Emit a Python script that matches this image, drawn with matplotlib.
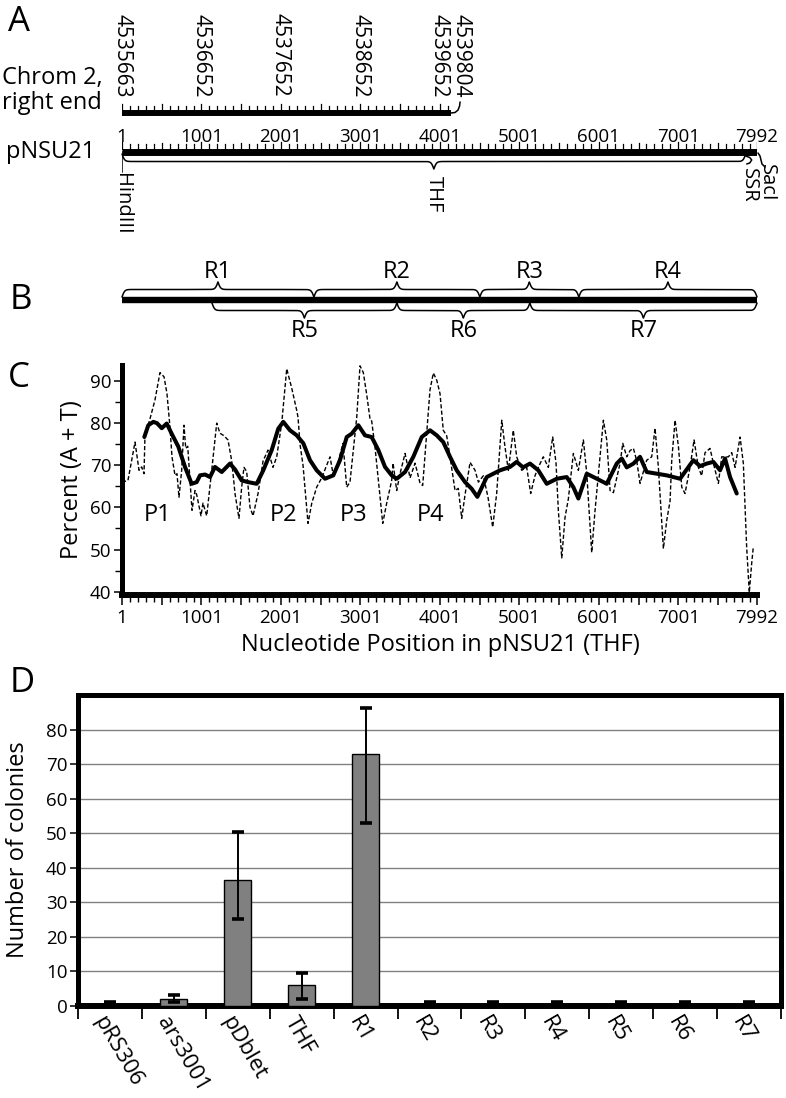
import numpy as np
import matplotlib
matplotlib.use('Agg')
import matplotlib.pyplot as plt
from matplotlib.transforms import ScaledTranslation

plt.rcParams['font.family'] = ['Open Sans', 'DejaVu Sans']

# ------------------------------------------------------------------ data
plasmid_len = 7992
chrom_len = 4142
chrom_label_pos = [1, 990, 1990, 2990, 3990, 4142]
chrom_labels = ['4535663', '4536652', '4537652', '4538652', '4539652', '4539804']
plasmid_ticks = [1, 1001, 2001, 3001, 4001, 5001, 6001, 7001, 7992]
plasmid_labels = ['1', '1001', '2001', '3001', '4001', '5001', '6001', '7001', '7992']
thf_span = (1, 7850)

top_region_names = ['R1', 'R2', 'R3', 'R4']
top_region_start = [1, 2416, 4504, 5750]
top_region_end = [2416, 4504, 5750, 7992]
bottom_region_names = ['R5', 'R6', 'R7']
bottom_region_start = [1133, 3460, 5133]
bottom_region_end = [3460, 5133, 7992]

raw_pos = [1, 76, 165, 215, 249, 278, 290, 353, 416, 479,
           530, 567, 605, 630, 668, 693, 718, 752, 781, 803,
           828, 857, 882, 920, 941, 995, 1020, 1067, 1130, 1193,
           1234, 1285, 1335, 1382, 1423, 1473, 1507, 1536, 1570, 1612,
           1650, 1713, 1776, 1838, 1901, 1948, 2011, 2074, 2137, 2200,
           2216, 2241, 2279, 2342, 2389, 2451, 2514, 2556, 2619, 2656,
           2703, 2782, 2829, 2870, 2955, 2996, 3038, 3081, 3122, 3143,
           3185, 3282, 3332, 3395, 3412, 3458, 3500, 3563, 3626, 3689,
           3752, 3785, 3836, 3877, 3919, 3962, 4003, 4044, 4087, 4129,
           4192, 4233, 4276, 4318, 4381, 4444, 4486, 4548, 4607, 4666,
           4716, 4780, 4821, 4863, 4925, 4968, 5031, 5094, 5144, 5198,
           5240, 5303, 5366, 5421, 5463, 5492, 5535, 5576, 5618, 5681,
           5744, 5807, 5850, 5912, 5954, 6017, 6059, 6101, 6143, 6185,
           6269, 6303, 6353, 6395, 6437, 6479, 6520, 6604, 6667, 6709,
           6751, 6814, 6856, 6898, 6919, 6961, 7003, 7045, 7086, 7149,
           7200, 7254, 7296, 7338, 7401, 7443, 7506, 7548, 7632, 7674,
           7716, 7779, 7820, 7862, 7895, 7925, 7945]
raw_at = [66, 66.4, 75.5, 68.8, 69.6, 68, 77, 81, 85.5, 92,
          91, 87, 79, 72, 67.6, 68, 62.4, 68.8, 79.5, 74,
          74.5, 66.4, 59.3, 64, 63, 58, 61, 58, 68.8, 80,
          77.6, 77, 76, 71, 63.3, 57.4, 64.8, 69.5, 68.5, 60,
          58, 63.3, 71, 73.6, 69.5, 72, 80, 92.9, 88.3, 83,
          81.4, 75, 70, 56.2, 61, 64.8, 67, 69, 72, 68,
          69.5, 75.2, 64.8, 66, 81.4, 93.6, 92, 86.7, 81, 80.5,
          74.3, 56.2, 61, 66.4, 70.5, 64, 68, 72.8, 67, 70.5,
          65.7, 65.2, 77.6, 87.9, 91.9, 90.2, 87, 78.3, 77, 72,
          64, 64.5, 57.4, 63, 70.7, 68.8, 66, 67.5, 62.4, 55.3,
          63.3, 80.7, 74.3, 68.8, 78.3, 72, 68.8, 69.5, 63.3, 67.5,
          69.5, 72, 69.5, 76.7, 70.5, 59.3, 48, 57.6, 62, 72.8,
          68.8, 76, 68, 49.3, 59.3, 72, 80.7, 76, 64, 63.5,
          70.5, 75.2, 72, 73.5, 74, 71, 65.7, 71.2, 72, 78.8,
          69.5, 50.2, 56.9, 61.5, 71.2, 80.7, 74.5, 64.8, 63.3, 69.5,
          76, 69.5, 67.5, 73, 74, 70.5, 65.7, 72, 72, 73,
          69.5, 76.7, 70.5, 50.5, 39.8, 46.7, 50.5]

smooth_pos = [282, 332, 395, 441, 501, 564, 626, 710, 794, 878,
              941, 983, 1046, 1108, 1171, 1256, 1360, 1423, 1507, 1587,
              1696, 1779, 1885, 1968, 2031, 2115, 2200, 2283, 2367, 2451,
              2556, 2660, 2744, 2829, 2892, 2975, 3059, 3143, 3227, 3311,
              3395, 3458, 3563, 3667, 3773, 3877, 3962, 4044, 4129, 4213,
              4318, 4402, 4473, 4591, 4758, 4884, 4968, 5048, 5136, 5240,
              5346, 5472, 5597, 5681, 5744, 5850, 5976, 6101, 6227, 6290,
              6353, 6437, 6520, 6604, 6730, 6856, 7024, 7191, 7275, 7359,
              7443, 7527, 7590, 7653, 7737]
smooth_at = [76.7, 79.5, 80.3, 80, 78.8, 79.9, 77.5, 74.4, 69.6, 65.6,
             66, 67.6, 67.8, 67.2, 69.6, 68.4, 70.4, 69, 66.4, 66,
             65.6, 68.8, 73.6, 78.7, 80.3, 78.3, 77.1, 75.2, 71.2, 68.8,
             66.8, 67.6, 71.2, 76.7, 77.5, 79.5, 77.1, 76.7, 73.6, 69.6,
             67.6, 66.8, 68.4, 72, 76.7, 78.3, 77.1, 75.5, 72, 68.8,
             66, 64.4, 62.5, 67.2, 68.8, 69.6, 70.8, 69.5, 70.4, 68.8,
             65.6, 66.8, 67.2, 64.8, 62.1, 68, 66.8, 65.6, 70.4, 71.6,
             69.5, 70.4, 72, 68.4, 68, 67.6, 66.8, 71.2, 69.8, 70.4,
             70.8, 68.8, 71.6, 67.2, 63.3]

peak_names = ['P1', 'P2', 'P3', 'P4']
peak_pos = [445, 2030, 2910, 3880]
peak_label_y = 58.3

categories = ['pRS306', 'ars3001', 'pDblet', 'THF', 'R1', 'R2', 'R3', 'R4', 'R5', 'R6', 'R7']
colonies = [0, 2.1, 36.4, 6.1, 72.9, 0, 0, 0, 0, 0, 0]
err_low = [0, 0.9, 11.2, 4.0, 19.9, 0, 0, 0, 0, 0, 0]
err_high = [1.2, 1.2, 13.9, 3.5, 13.3, 1.2, 1.2, 1.2, 1.2, 1.2, 1.2]

# ------------------------------------------------------------------ layout helpers
W, H = 786, 1098
fig = plt.figure(figsize=(W / 100, H / 100), dpi=100)


def rect(x0, y0, x1, y1):
    return [x0 / W, 1 - y1 / H, (x1 - x0) / W, (y1 - y0) / H]


def ftext(x, y, s, **kw):
    fig.text(x / W, 1 - y / H, s, **kw)


XL, XR = 122, 757
px2nt = (plasmid_len - 1) / (XR - XL)


def brace(ax, x0, x1, y0, h, n=2001, beta=0.06, lw=1.1):
    xs = np.linspace(x0, x1, n)
    half = xs[: n // 2 + 1]
    yh = 1 / (1 + np.exp(-beta * (half - half[0]))) + 1 / (1 + np.exp(-beta * (half - half[-1])))
    yy = np.concatenate([yh, yh[-2::-1]])
    ax.plot(xs, y0 + (yy - 0.5) * h, color='k', lw=lw, solid_capstyle='round', clip_on=False)
    return (x0 + x1) / 2


def hook(ax, x_nt, y_px, offsets, lw=1.1):
    xs = [x_nt + dx * px2nt for dx, dy in offsets]
    ys = [y_px + dy for dx, dy in offsets]
    ax.plot(xs, ys, color='k', lw=lw, clip_on=False, solid_capstyle='round')


# ------------------------------------------------------------------ panels A & B
axT = fig.add_axes(rect(XL, 0, XR, 345))
axT.set_xlim(1, plasmid_len)
axT.set_ylim(345, 0)
axT.axis('off')

LBL = 17
NUM = 13.5

ftext(8, 22, 'A', fontsize=25, va='center', ha='left')
ftext(2, 78, 'Chrom 2,', fontsize=LBL, va='center', ha='left')
ftext(2, 103, 'right end', fontsize=LBL, va='center', ha='left')
ftext(6, 152, 'pNSU21', fontsize=LBL, va='center', ha='left')

# chromosome bar
axT.plot([1, chrom_len], [113, 113], color='k', lw=4.3, solid_capstyle='butt')
for t in np.arange(1, chrom_len, 100):
    L = 7 if (t - 1) % 500 == 0 else 4.5
    axT.plot([t, t], [110.5, 110.5 - L], color='k', lw=0.9)
for p, s in zip(chrom_label_pos, chrom_labels):
    off = 10 if p == chrom_len else 0
    tr = axT.transData + ScaledTranslation(off / 100, 0, fig.dpi_scale_trans)
    axT.text(p, 97, s, rotation=270, ha='center', va='bottom', fontsize=15, transform=tr)
hook(axT, chrom_len, 113, [(0, 0), (4, -0.5), (7, -3), (8.5, -7), (9, -11)])

# plasmid bar
axT.plot([1, plasmid_len], [152, 152], color='k', lw=5, solid_capstyle='butt')
for t in np.arange(1, plasmid_len, 100):
    L = 7 if (t - 1) % 1000 == 0 else (6 if (t - 1) % 500 == 0 else 4.5)
    axT.plot([t, t], [148.5, 148.5 - L], color='k', lw=0.9)
axT.plot([plasmid_len, plasmid_len], [148.5, 141.5], color='k', lw=0.9)
for p, s in zip(plasmid_ticks, plasmid_labels):
    axT.text(p, 142, s, ha='center', va='baseline', fontsize=NUM)

tip = brace(axT, thf_span[0], thf_span[1], 154, 15)
axT.plot([1, 1], [152, 172], color='k', lw=1.1)
axT.text(1, 173, 'HindIII', rotation=270, ha='center', va='top', fontsize=14.5)
axT.text(tip, 176, 'THF', rotation=270, ha='center', va='top', fontsize=14.5)
hook(axT, thf_span[1], 156, [(0, 0), (4, 1.5), (6, 4), (4, 7), (1, 8)])
axT.text(thf_span[1] + 3 * px2nt, 168, 'SSR', rotation=270, ha='center', va='top', fontsize=14.5)
hook(axT, plasmid_len, 153, [(1, 0), (3, 3), (4, 7), (5, 11), (8, 14)])
axT.text(plasmid_len + 10 * px2nt, 164, 'SacI', rotation=270, ha='center', va='top', fontsize=14.5)

# panel B
ftext(10, 300, 'B', fontsize=25, va='center', ha='left')
axT.plot([1, plasmid_len], [300, 300], color='k', lw=4.6, solid_capstyle='butt')
for nm, a, b in zip(top_region_names, top_region_start, top_region_end):
    c = brace(axT, a, b, 297, -15)
    axT.text(c, 272, nm, ha='center', va='center', fontsize=LBL)
for nm, a, b in zip(bottom_region_names, bottom_region_start, bottom_region_end):
    c = brace(axT, a, b, 303, 15)
    axT.text(c, 331, nm, ha='center', va='center', fontsize=LBL)

# ------------------------------------------------------------------ panel C
ftext(8, 378, 'C', fontsize=25, va='center', ha='left')
axC = fig.add_axes(rect(XL, 365, XR, 595))
axC.plot(raw_pos, raw_at, color='k', lw=1.0, ls=(0, (3, 1.6)), clip_on=False)
axC.plot(smooth_pos, smooth_at, color='k', lw=2.9, solid_joinstyle='round', solid_capstyle='round')
axC.set_xlim(1, plasmid_len)
axC.set_ylim(39.2, 93.8)
axC.spines['top'].set_visible(False)
axC.spines['right'].set_visible(False)
axC.spines['left'].set_linewidth(3.6)
axC.spines['bottom'].set_linewidth(4.3)
maj = sorted(set(plasmid_ticks) | set(range(501, plasmid_len, 1000)))
axC.set_xticks(maj)
axC.set_xticklabels([s if p in plasmid_ticks else '' for p, s in
                     zip(maj, [str(m) for m in maj])])
axC.set_xticks(np.arange(101, plasmid_len, 100), minor=True)
axC.set_yticks(range(40, 91, 10))
axC.set_yticks(range(45, 90, 10), minor=True)
axC.tick_params(axis='x', which='major', direction='out', length=7, width=1.1, labelsize=NUM, pad=3)
axC.tick_params(axis='x', which='minor', direction='out', length=5, width=1.0)
axC.tick_params(axis='y', which='major', direction='out', length=6, width=1.1, labelsize=NUM, pad=1.5)
axC.tick_params(axis='y', which='minor', direction='out', length=5, width=1.0)
axC.set_ylabel('Percent (A + T)', fontsize=LBL, va='center')
axC.yaxis.set_label_coords((72 - XL) / (XR - XL), 0.5)
axC.set_xlabel('Nucleotide Position in pNSU21 (THF)', fontsize=LBL)
axC.xaxis.set_label_coords((440 - XL) / (XR - XL), (595 - 633) / 230)
for nm, p in zip(peak_names, peak_pos):
    axC.text(p, peak_label_y, nm, ha='center', va='center', fontsize=LBL)

# ------------------------------------------------------------------ panel D
ftext(10, 683, 'D', fontsize=25, va='center', ha='left')
axD = fig.add_axes(rect(78, 695, 781, 1006))
xpos = np.arange(len(categories))
axD.bar(xpos, colonies, width=0.42, color='#808080', edgecolor='k', linewidth=1.0, zorder=3)
axD.errorbar(xpos, colonies, yerr=[err_low, err_high], fmt='none', ecolor='k',
             elinewidth=1.4, capsize=4.5, capthick=2.6, zorder=4)
axD.set_xlim(-0.5, len(categories) - 0.5)
axD.set_ylim(0, 90)
axD.set_yticks(range(0, 81, 10))
axD.yaxis.grid(True, color='#808080', lw=1.0)
axD.set_axisbelow(True)
for s in axD.spines.values():
    s.set_linewidth(3.6)
axD.spines['bottom'].set_linewidth(4.3)
axD.tick_params(axis='y', direction='out', length=6, width=1.1, labelsize=NUM, pad=1.5)
axD.set_xticks(xpos)
axD.set_xticklabels(categories, rotation=-60, ha='left', va='center',
                    rotation_mode='anchor', fontsize=16)
axD.set_xticks(np.arange(-0.5, len(categories), 1), minor=True)
axD.tick_params(axis='x', which='major', length=0, pad=8.5)
axD.tick_params(axis='x', which='minor', direction='out', length=9, width=1.3)
for lab in axD.get_xticklabels():
    lab.set_transform(lab.get_transform() + ScaledTranslation(-0.12, 0, fig.dpi_scale_trans))
axD.set_ylabel('Number of colonies', fontsize=LBL, va='center')
axD.yaxis.set_label_coords((18 - 78) / 703, (1006 - 850) / 311)

fig.savefig('out.png', dpi=100)
